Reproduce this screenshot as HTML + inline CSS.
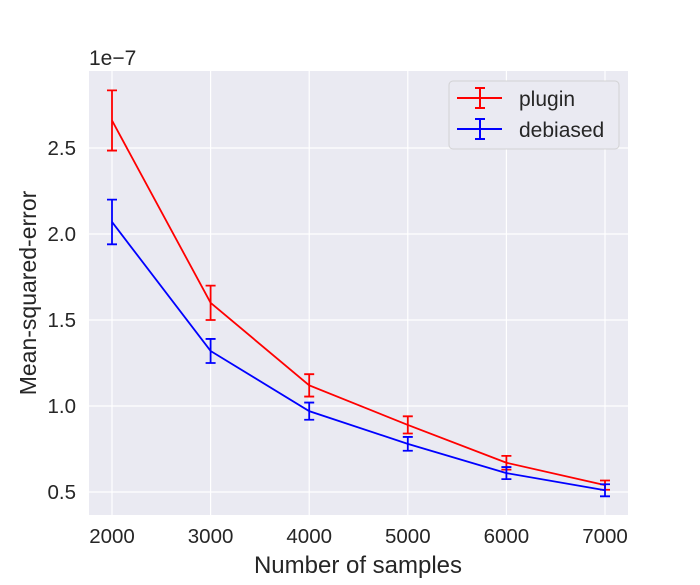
<!DOCTYPE html>
<html><head><meta charset="utf-8"><style>
body{margin:0;background:#fff;font-family:"Liberation Sans",sans-serif;}
</style></head><body>
<svg id="chart" width="700" height="580" xmlns="http://www.w3.org/2000/svg" font-family="Liberation Sans, sans-serif">
<rect x="89" y="71" width="539" height="444" fill="#eaeaf2"/>
<g id="grid"></g>
<g id="ticks"></g>
<g id="series"></g>
<text x="89" y="65" font-size="21" fill="#262626">1e−7</text>
<text x="358" y="573" font-size="24" fill="#262626" text-anchor="middle">Number of samples</text>
<text transform="translate(36,293) rotate(-90)" font-size="23" fill="#262626" text-anchor="middle">Mean-squared-error</text>
<g>
<rect x="449" y="81" width="170" height="68" rx="4" fill="#eaeaf2" stroke="#cccccc" stroke-opacity="0.8"/>
<g>
<line x1="457" y1="98" x2="502" y2="98" stroke="red" stroke-width="2"/>
<line x1="480" y1="88" x2="480" y2="108" stroke="red" stroke-width="2"/>
<line x1="475" y1="88" x2="485" y2="88" stroke="red" stroke-width="2"/>
<line x1="475" y1="108" x2="485" y2="108" stroke="red" stroke-width="2"/>
<text x="519" y="106" font-size="21" fill="#262626">plugin</text></g>
<g>
<line x1="457" y1="129" x2="502" y2="129" stroke="blue" stroke-width="2"/>
<line x1="480" y1="119" x2="480" y2="139" stroke="blue" stroke-width="2"/>
<line x1="475" y1="119" x2="485" y2="119" stroke="blue" stroke-width="2"/>
<line x1="475" y1="139" x2="485" y2="139" stroke="blue" stroke-width="2"/>
<text x="519" y="137" font-size="21" fill="#262626">debiased</text></g>
</g>
</svg>
<script>
const samples=[2000,3000,4000,5000,6000,7000];
const pluginMean=[2.66,1.60,1.12,0.89,0.67,0.54];
const pluginErr=[0.175,0.10,0.065,0.05,0.04,0.027];
const debiasedMean=[2.07,1.32,0.97,0.78,0.61,0.51];
const debiasedErr=[0.13,0.07,0.05,0.04,0.035,0.035];
const xTicks=[2000,3000,4000,5000,6000,7000];
const yTicks=[0.5,1.0,1.5,2.0,2.5];
const NS='http://www.w3.org/2000/svg';
const xs=v=>112+(v-2000)*(605-112)/5000;
const ys=v=>492-(v-0.5)*(492-148)/2;
function mk(tag,attrs,parent){const e=document.createElementNS(NS,tag);for(const k in attrs)e.setAttribute(k,attrs[k]);parent.appendChild(e);return e;}
const grid=document.getElementById('grid'),ticks=document.getElementById('ticks'),ser=document.getElementById('series');
xTicks.forEach(t=>{
 const l=mk('line',{x1:xs(t),x2:xs(t),y1:71,y2:515,stroke:'#fff','stroke-width':1.2},grid);
 
 
 const tx=mk('text',{x:xs(t),y:543,'font-size':20.5,fill:'#262626','text-anchor':'middle'},ticks);
 tx.textContent=t;
 
 
});
yTicks.forEach(t=>{
 const l=mk('line',{x1:89,x2:628,y1:ys(t),y2:ys(t),stroke:'#fff','stroke-width':1.2},grid);
 
 
 const tx=mk('text',{x:76,y:ys(t)+7,'font-size':20.5,fill:'#262626','text-anchor':'end'},ticks);
 tx.textContent=t.toFixed(1);
 
 
});
function series(mean,err,color,name){
 const g=mk('g',{},ser);
 
 
 const p=mk('polyline',{points:samples.map((s,i)=>xs(s)+','+ys(mean[i])).join(' '),fill:'none',stroke:color,'stroke-width':1.8},g);
 
 
 samples.forEach((s,i)=>{
  const x=xs(s),y1=ys(mean[i]-err[i]),y2=ys(mean[i]+err[i]);
  const e=mk('path',{d:`M${x},${y1}V${y2}M${x-5},${y1}H${x+5}M${x-5},${y2}H${x+5}`,stroke:color,'stroke-width':1.8,fill:'none'},g);
  
  
 });
}
series(pluginMean,pluginErr,'red','plugin');
series(debiasedMean,debiasedErr,'blue','debiased');
</script>
</body></html>
